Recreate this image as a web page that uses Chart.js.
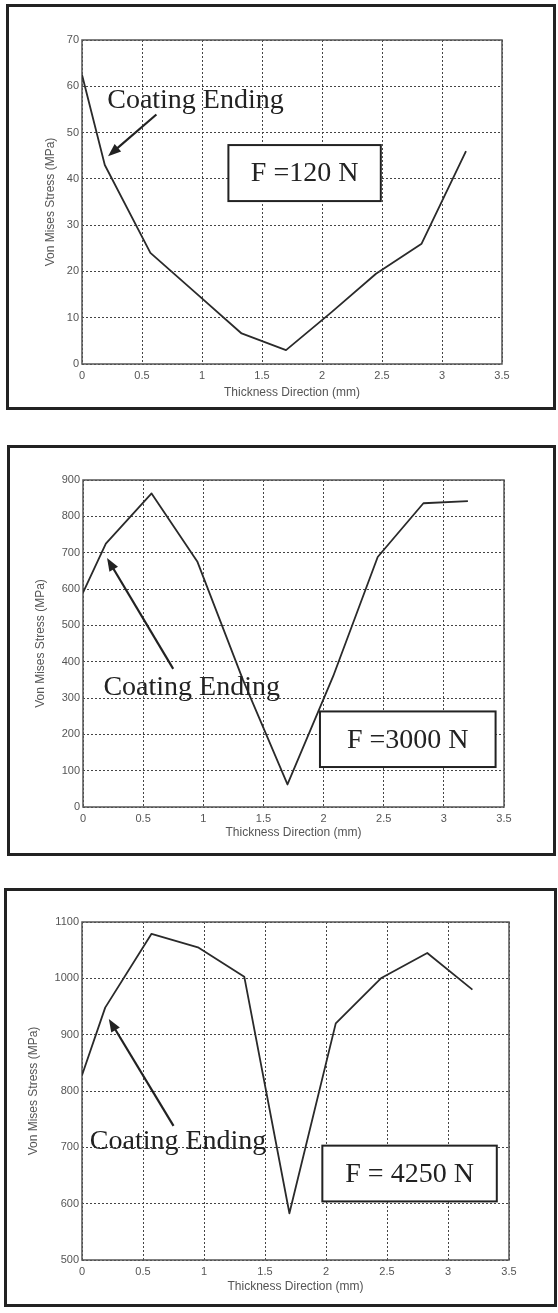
<!DOCTYPE html>
<html>
<head>
<meta charset="utf-8">
<script src="https://cdn.jsdelivr.net/npm/chart.js@4.4.1/dist/chart.umd.min.js"></script>
<style>
    body { margin: 0; background: #fff; }
    #page { position: relative; width: 558px; height: 1313px; overflow: hidden; }
    .frame { position: absolute; border: 3px solid #222; box-sizing: border-box; }
    canvas { position: absolute; left: 0; }
</style>
</head>
<body>
<div id="page">
    <div class="frame" style="left:6px;top:4px;width:550px;height:406px"></div>
    <div class="frame" style="left:7px;top:445px;width:549px;height:411px"></div>
    <div class="frame" style="left:4px;top:888px;width:553px;height:419px"></div>
    <canvas id="c120" width="558" height="430" style="top:0px"></canvas>
    <canvas id="c3000" width="558" height="450" style="top:430px"></canvas>
    <canvas id="c4250" width="558" height="433" style="top:880px"></canvas>
</div>
<script>
// thickness positions (mm) and Von Mises stress (MPa)
const thickness = [0, 0.19, 0.57, 0.95, 1.33, 1.7, 2.08, 2.45, 2.83, 3.2];
const stress120 = [62.5, 43, 24, 15.3, 6.6, 3, 11.2, 19.5, 26, 46];
const stress3000 = [590, 725, 863, 676, 350, 62, 360, 688, 836, 842];
const stress4250 = [828, 948, 1079, 1055, 1003, 583, 920, 1000, 1045, 980];

const xTicks = [0, 0.5, 1, 1.5, 2, 2.5, 3, 3.5];
const yTicks120 = [0, 10, 20, 30, 40, 50, 60, 70];
const yTicks3000 = [0, 100, 200, 300, 400, 500, 600, 700, 800, 900];
const yTicks4250 = [500, 600, 700, 800, 900, 1000, 1100];

const loadLabels = ['F =120 N', 'F =3000 N', 'F = 4250 N'];
const noteText = 'Coating Ending';

const SANS = '"Liberation Sans", Arial, sans-serif';
const SERIF = '"Liberation Serif", "Times New Roman", serif';
const INK = '#222';

// frame, arrow, text box and note drawn through the chart scales
const notesPlugin = {
    id: 'notes',
    beforeDatasetsDraw(chart) {
        const a = chart.chartArea;
        const ctx = chart.ctx;
        ctx.save();
        ctx.strokeStyle = '#555';
        ctx.lineWidth = 1.5;
        ctx.strokeRect(a.left, a.top, a.right - a.left, a.bottom - a.top);
        ctx.restore();
    },
    afterDatasetsDraw(chart, args, opts) {
        const ctx = chart.ctx;
        const xs = chart.scales.x, ys = chart.scales.y;
        const px = v => xs.getPixelForValue(v);
        const py = v => ys.getPixelForValue(v);
        ctx.save();

        // label box
        const b = opts.box;
        const bx1 = px(b.x1), bx2 = px(b.x2), by1 = py(b.y1), by2 = py(b.y2);
        ctx.fillStyle = '#fff';
        ctx.fillRect(bx1, by1, bx2 - bx1, by2 - by1);
        ctx.strokeStyle = INK;
        ctx.lineWidth = 2;
        ctx.strokeRect(bx1, by1, bx2 - bx1, by2 - by1);
        ctx.fillStyle = INK;
        ctx.font = '28px ' + SERIF;
        ctx.textAlign = 'center';
        ctx.textBaseline = 'middle';
        ctx.fillText(b.text, (bx1 + bx2) / 2, (by1 + by2) / 2 + 1);

        // note text
        ctx.textAlign = 'left';
        ctx.textBaseline = 'alphabetic';
        ctx.fillText(noteText, px(opts.note.x), py(opts.note.y));

        // arrow
        const ar = opts.arrow;
        const tx = px(ar.x1), ty = py(ar.y1), hx = px(ar.x2), hy = py(ar.y2);
        const ang = Math.atan2(hy - ty, hx - tx);
        const len = 13, half = 5;
        ctx.strokeStyle = INK;
        ctx.lineWidth = 2.2;
        ctx.beginPath();
        ctx.moveTo(tx, ty);
        ctx.lineTo(hx - Math.cos(ang) * len * 0.8, hy - Math.sin(ang) * len * 0.8);
        ctx.stroke();
        ctx.beginPath();
        ctx.moveTo(hx, hy);
        ctx.lineTo(hx - Math.cos(ang) * len - Math.sin(ang) * half, hy - Math.sin(ang) * len + Math.cos(ang) * half);
        ctx.lineTo(hx - Math.cos(ang) * len + Math.sin(ang) * half, hy - Math.sin(ang) * len - Math.cos(ang) * half);
        ctx.closePath();
        ctx.fill();
        ctx.restore();
    }
};

function makePanel(id, values, yTicks, p) {
    const canvas = document.getElementById(id);
    const H = canvas.height;
    const yAxisW = 70, xAxisH = 40;
    const points = thickness.map((t, i) => ({ x: t, y: values[i] }));

    return new Chart(canvas, {
        type: 'line',
        data: {
            datasets: [{
                data: points,
                borderColor: '#2a2a2a',
                borderWidth: 1.8,
                borderJoinStyle: 'round',
                pointRadius: 0,
                tension: 0,
                fill: false
            }]
        },
        options: {
            responsive: false,
            animation: false,
            devicePixelRatio: 1,
            layout: {
                padding: {
                    left: p.left - yAxisW,
                    right: 558 - p.right,
                    top: p.top,
                    bottom: H - p.bottom - xAxisH
                }
            },
            plugins: {
                legend: { display: false },
                tooltip: { enabled: false },
                notes: p.notes
            },
            scales: {
                x: {
                    type: 'linear',
                    min: xTicks[0],
                    max: xTicks[xTicks.length - 1],
                    afterBuildTicks: s => { s.ticks = xTicks.map(v => ({ value: v })); },
                    afterFit: s => { s.height = xAxisH; },
                    border: { display: false, dash: [2, 2] },
                    grid: { color: '#444', lineWidth: 1, drawTicks: false },
                    ticks: {
                        padding: 5, color: '#555', maxRotation: 0,
                        font: { family: SANS, size: 11 },
                        callback: v => String(v)
                    },
                    title: {
                        display: true,
                        text: 'Thickness Direction (mm)',
                        color: '#555',
                        font: { family: SANS, size: 12 },
                        padding: { top: 0, bottom: p.bottom + xAxisH - p.titleY - 7.2 }
                    }
                },
                y: {
                    min: yTicks[0],
                    max: yTicks[yTicks.length - 1],
                    afterBuildTicks: s => { s.ticks = yTicks.map(v => ({ value: v })); },
                    afterFit: s => { s.width = yAxisW; },
                    border: { display: false, dash: [2, 2] },
                    grid: { color: '#444', lineWidth: 1, drawTicks: false },
                    ticks: {
                        padding: 3, color: '#555',
                        font: { family: SANS, size: 11 },
                        callback: v => String(v)
                    },
                    title: {
                        display: true,
                        text: 'Von Mises Stress (MPa)',
                        color: '#555',
                        font: { family: SANS, size: 12 },
                        padding: { top: p.titleX - (p.left - yAxisW) - 7.2, bottom: 0 }
                    }
                }
            }
        },
        plugins: [notesPlugin]
    });
}

makePanel('c120', stress120, yTicks120, {
    left: 82, right: 502, top: 40, bottom: 364, titleX: 51, titleY: 393,
    notes: {
        box: { x1: 1.22, x2: 2.49, y1: 47.3, y2: 35.2, text: loadLabels[0] },
        note: { x: 0.21, y: 55.3 },
        arrow: { x1: 0.62, y1: 53.9, x2: 0.217, y2: 44.9 }
    }
});

makePanel('c3000', stress3000, yTicks3000, {
    left: 83, right: 504, top: 50, bottom: 377, titleX: 41, titleY: 403,
    notes: {
        box: { x1: 1.97, x2: 3.43, y1: 263, y2: 110, text: loadLabels[1] },
        note: { x: 0.17, y: 307 },
        arrow: { x1: 0.75, y1: 380, x2: 0.2, y2: 685 }
    }
});

makePanel('c4250', stress4250, yTicks4250, {
    left: 82, right: 509, top: 42, bottom: 380, titleX: 34, titleY: 407,
    notes: {
        box: { x1: 1.97, x2: 3.40, y1: 703, y2: 604, text: loadLabels[2] },
        note: { x: 0.064, y: 697 },
        arrow: { x1: 0.75, y1: 738, x2: 0.22, y2: 928 }
    }
});
</script>
</body>
</html>
